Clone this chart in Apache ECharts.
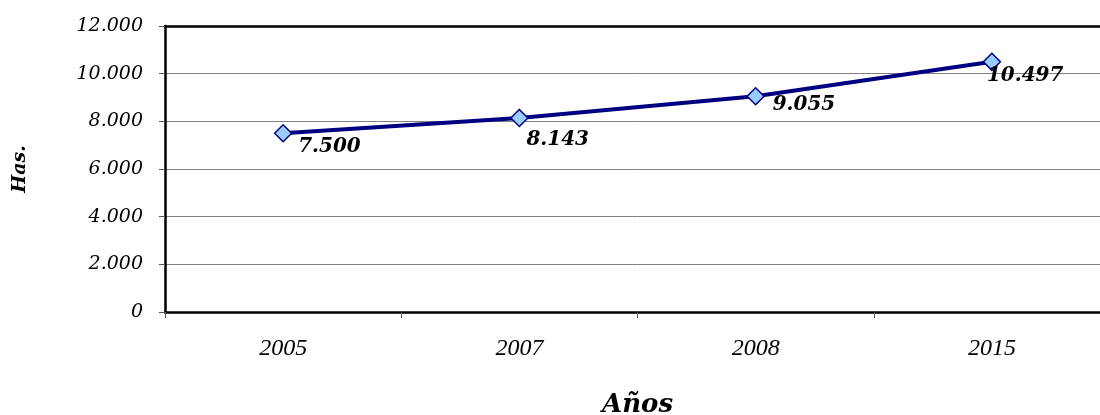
<!DOCTYPE html>
<html>
<head>
<meta charset="utf-8">
<script src="https://cdn.jsdelivr.net/npm/echarts@6/dist/echarts.min.js"></script>
<style>
  html, body { margin: 0; padding: 0; background: #fff; overflow: hidden; }
  #chart { width: 1120px; height: 415px; }
</style>
</head>
<body>
<div id="chart"></div>
<script>
// Superficie (hectáreas) por año
const years = ['2005', '2007', '2008', '2015'];
const hectares = [7500, 8143, 9055, 10497];
const yTicks = { min: 0, max: 12000, interval: 2000 };

// Where each value label sits relative to its marker
const labelOffsets = [[15, 14], [7, 22], [17, 9], [-5, 14]];

// Thousands separator with a dot
function fmt(v) {
  return String(v).replace(/\B(?=(\d{3})+(?!\d))/g, '.');
}

const serif = 'DejaVu Serif';
const chart = echarts.init(document.getElementById('chart'), null, { renderer: 'canvas' });

chart.setOption({
  backgroundColor: '#ffffff',
  animation: false,
  grid: {
    left: 165, top: 26, width: 945, height: 286,
    outerBoundsMode: 'none',
    containLabel: false,
    show: false
  },
  xAxis: [{
    type: 'category',
    data: years,
    boundaryGap: true,
    name: 'Años',
    nameLocation: 'middle',
    nameGap: 80,
    nameTextStyle: { fontFamily: serif, fontStyle: 'italic', fontWeight: 'bold', fontSize: 26, color: '#000' },
    axisLine: { lineStyle: { color: '#000', width: 2.5 } },
    axisTick: { show: true, alignWithLabel: false, length: 6, lineStyle: { color: '#555', width: 1 } },
    axisLabel: { margin: 25, fontFamily: 'Liberation Serif', fontStyle: 'italic', fontSize: 24, color: '#000' },
    splitLine: { show: false }
  }, {
    // top edge of the plot frame
    type: 'category',
    position: 'top',
    data: years,
    axisLine: { show: true, lineStyle: { color: '#000', width: 2.5 } },
    axisTick: { show: false },
    axisLabel: { show: false },
    splitLine: { show: false }
  }],
  yAxis: {
    type: 'value',
    min: yTicks.min, max: yTicks.max, interval: yTicks.interval,
    name: 'Has.',
    nameLocation: 'middle',
    nameGap: 135,
    nameRotate: 90,
    nameTextStyle: { fontFamily: serif, fontStyle: 'italic', fontWeight: 'bold', fontSize: 19, color: '#000' },
    axisLine: { show: true, lineStyle: { color: '#000', width: 2.5 } },
    axisTick: { show: true, length: 6, lineStyle: { color: '#555', width: 1 } },
    axisLabel: { margin: 22, fontFamily: serif, fontStyle: 'italic', fontSize: 19, color: '#000', formatter: fmt },
    splitLine: { show: true, lineStyle: { color: '#808080', width: 1 } }
  },
  series: [{
    type: 'line',
    xAxisIndex: 0,
    data: hectares.map((v, i) => ({
      value: v,
      label: { offset: labelOffsets[i] }
    })),
    lineStyle: { color: '#000080', width: 4 },
    symbol: 'diamond',
    symbolSize: 17,
    itemStyle: { color: '#99CCFF', borderColor: '#000080', borderWidth: 1.5 },
    label: {
      show: true,
      position: 'inside',
      align: 'left',
      verticalAlign: 'middle',
      formatter: p => fmt(p.value),
      fontFamily: serif, fontStyle: 'italic', fontWeight: 'bold', fontSize: 20, color: '#000'
    },
    z: 3
  }]
});
</script>
</body>
</html>
